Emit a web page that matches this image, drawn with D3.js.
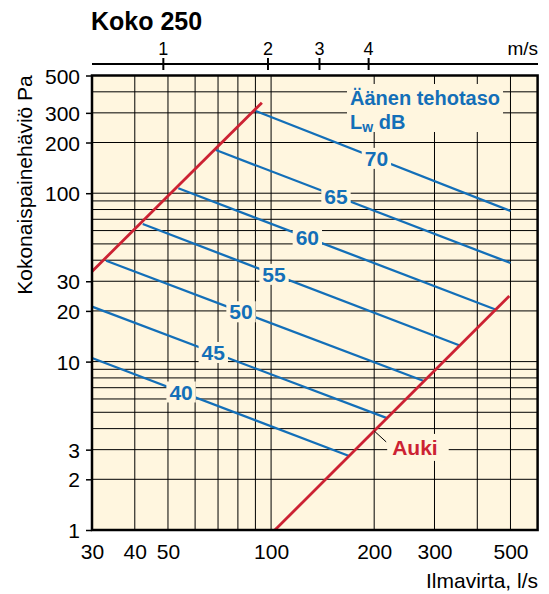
<!DOCTYPE html>
<html><head><meta charset="utf-8">
<script src="https://cdn.jsdelivr.net/npm/d3@7"></script>
<style>
body{margin:0;background:#fff;}
svg{display:block;font-family:"Liberation Sans",Arial,Helvetica,sans-serif;}
</style></head><body>
<svg id="c" width="549" height="594"></svg>
<script>
// ---- data ----
const chartTitle = "Koko 250";
const xLabel = "Ilmavirta, l/s";
const yLabel = "Kokonaispainehäviö Pa";
const topUnit = "m/s";
const xTickValues = [30, 40, 50, 100, 200, 300, 500];
const yTickValues = [1, 2, 3, 10, 20, 30, 100, 200, 300, 500];
const xGridValues = [40, 50, 60, 70, 80, 90, 100, 200, 300, 400, 500];
const yGridValues = [2, 3, 4, 5, 6, 7, 8, 9, 10, 20, 30, 40, 50, 60, 70, 80, 90, 100, 200, 300, 400];
const velocityTicks = [1, 2, 3, 4];
const velocityTickFlows = [48.3, 97.6, 138, 192];
const levels = [70, 65, 60, 55, 50, 45, 40];
const levelStartFlow = [90.2, 69, 53.6, 42.2, 33, 30, 30];
const levelStartPressure = [307.6, 180.5, 107, 65.6, 39.7, 21.2, 10.5];
const levelEndFlow = [500, 500, 452, 354, 278, 219, 169];
const levelEndPressure = [78.4, 38.5, 20.4, 12.5, 7.7, 4.6, 2.75];
const levelLabelFlow = [203, 154.7, 127.6, 102, 81.7, 67.8, 54.6];
const openLeftFlow = [30, 94];
const openLeftPressure = [34.3, 345];
const openRightFlow = [102.6, 496];
const openRightPressure = [1, 24.5];
const openLabel = "Auki";
const openLabelFlow = 200;
const legendLine1 = "Äänen tehotaso";
const legendL = "L", legendSub = "w", legendRest = " dB";

// ---- styles ----
const BLUE = "#136fb8", RED = "#cc2233", CREAM = "#fff6df";

const svg = d3.select("#c");
const L = 92, R = 537.6, T = 75.5, B = 530;
const x = d3.scaleLog().domain([30, 600]).range([L, R]);
const y = d3.scaleLog().domain([1, 500]).range([B, T]);

// title
svg.append("text").attr("x", 91).attr("y", 30).attr("font-size", 25).attr("font-weight", "bold").text(chartTitle);

// plot background
svg.append("rect").attr("x", L).attr("y", T).attr("width", R - L).attr("height", B - T).attr("fill", CREAM);

// grid
const grid = svg.append("g").attr("stroke", "#000").attr("stroke-width", 1);
grid.selectAll(".gx").data(xGridValues).join("line")
  .attr("x1", d => x(d)).attr("x2", d => x(d)).attr("y1", T).attr("y2", B);
grid.selectAll(".gy").data(yGridValues).join("line")
  .attr("y1", d => y(d)).attr("y2", d => y(d)).attr("x1", L).attr("x2", R);

// sound level lines
const lvl = levels.map((v, i) => ({v, f0: levelStartFlow[i], p0: levelStartPressure[i], f1: levelEndFlow[i], p1: levelEndPressure[i], lf: levelLabelFlow[i]}));
const line = d3.line().x(d => x(d[0])).y(d => y(d[1]));
svg.append("g").selectAll("path").data(lvl).join("path")
  .attr("d", d => line([[d.f0, d.p0], [d.f1, d.p1]]))
  .attr("fill", "none").attr("stroke", BLUE).attr("stroke-width", 2.3);

// open lines
const openLines = [openLeftFlow.map((f, i) => [f, openLeftPressure[i]]), openRightFlow.map((f, i) => [f, openRightPressure[i]])];
svg.append("g").selectAll("path").data(openLines).join("path")
  .attr("d", d => line(d)).attr("fill", "none").attr("stroke", RED).attr("stroke-width", 2.8);

// level labels
function pAt(d, f) {
  const t = (Math.log(f) - Math.log(d.f0)) / (Math.log(d.f1) - Math.log(d.f0));
  return Math.exp(Math.log(d.p0) + t * (Math.log(d.p1) - Math.log(d.p0)));
}
const lg = svg.append("g");
lvl.forEach(d => {
  const cx = x(d.lf), cy = y(pAt(d, d.lf));
  const r = lg.append("rect").attr("fill", CREAM);
  const t = lg.append("text").attr("x", cx).attr("y", cy).attr("dy", "0.36em")
    .attr("text-anchor", "middle").attr("font-size", 21).attr("font-weight", "bold")
    .attr("fill", BLUE).text(d.v);
  const w = t.node().getComputedTextLength();
  r.attr("x", cx - w / 2 - 3).attr("y", cy - 10.5).attr("width", w + 6).attr("height", 21);
});

// legend title
const leg = svg.append("g");
const legBg = leg.append("rect").attr("fill", CREAM);
const t1 = leg.append("text").attr("x", 350).attr("y", 105).attr("font-size", 20).attr("font-weight", "bold").attr("fill", BLUE).text(legendLine1);
const t2 = leg.append("text").attr("x", 350).attr("y", 128.5).attr("font-size", 20).attr("font-weight", "bold").attr("fill", BLUE);
t2.append("tspan").text(legendL);
t2.append("tspan").attr("font-size", 14).attr("dy", 3).text(legendSub);
t2.append("tspan").attr("dy", -3).text(legendRest);
{
  const b1 = t1.node().getBBox();
  legBg.attr("x", b1.x - 3).attr("y", 84).attr("width", b1.width + 6).attr("height", 132 - 84);
}

// Auki label
{
  const ax = x(openLabelFlow);
  const ap = Math.exp(Math.log(openRightPressure[0]) + (Math.log(openLabelFlow) - Math.log(openRightFlow[0])) / (Math.log(openRightFlow[1]) - Math.log(openRightFlow[0])) * (Math.log(openRightPressure[1]) - Math.log(openRightPressure[0])));
  const ay = y(ap);
  const ag = svg.append("g");
  const bg = ag.append("rect").attr("fill", CREAM);
  ag.append("line").attr("x1", ax).attr("y1", ay).attr("x2", ax + 12).attr("y2", ay + 11).attr("stroke", "#000").attr("stroke-width", 1);
  const at = ag.append("text").attr("x", ax + 18).attr("y", ay + 24).attr("font-size", 21).attr("font-weight", "bold").attr("fill", RED).text(openLabel);
  const bb = at.node().getBBox();
  bg.attr("x", bb.x - 5).attr("y", ay + 3).attr("width", bb.width + 16).attr("height", 27);
}

// border
svg.append("rect").attr("x", L).attr("y", T).attr("width", R - L).attr("height", B - T)
  .attr("fill", "none").attr("stroke", "#000").attr("stroke-width", 2.5);

// left axis
const ya = svg.append("g").attr("transform", `translate(${L},0)`)
  .call(d3.axisLeft(y).tickValues(yTickValues).tickFormat(d3.format("d")).tickSizeInner(6).tickSizeOuter(0).tickPadding(6));
ya.select(".domain").remove();
ya.selectAll("line").attr("stroke", "#000").attr("stroke-width", 1.5);
ya.selectAll("text").attr("font-size", 21).attr("font-family", "Liberation Sans, Arial, sans-serif").attr("fill", "#000").attr("dy", "0.36em");

// bottom axis
const xa = svg.append("g").attr("transform", `translate(0,${B})`)
  .call(d3.axisBottom(x).tickValues(xTickValues).tickFormat(d3.format("d")).tickSize(0).tickPadding(14));
xa.select(".domain").remove();
xa.selectAll("text").attr("font-size", 21).attr("font-family", "Liberation Sans, Arial, sans-serif").attr("fill", "#000");

// top velocity axis
const ta = svg.append("g").attr("transform", "translate(0,64)")
  .call(d3.axisTop(x).tickValues(velocityTickFlows).tickFormat((d, i) => velocityTicks[i]).tickSize(6).tickPadding(3));
ta.select(".domain").remove();
ta.append("line").attr("x1", L).attr("x2", 538).attr("y1", 0).attr("y2", 0).attr("stroke", "#000").attr("stroke-width", 2);
ta.selectAll(".tick line").attr("y1", 6).attr("y2", -6).attr("stroke", "#000").attr("stroke-width", 2);
ta.selectAll("text").attr("font-size", 18).attr("font-family", "Liberation Sans, Arial, sans-serif").attr("fill", "#000");
svg.append("text").attr("x", 538).attr("y", 55).attr("text-anchor", "end").attr("font-size", 19).text(topUnit);

// axis titles
svg.append("text").attr("x", 538).attr("y", 588).attr("text-anchor", "end").attr("font-size", 21).text(xLabel);
svg.append("text").attr("transform", "translate(32,185) rotate(-90)").attr("text-anchor", "middle").attr("font-size", 21).text(yLabel);
</script>
</body></html>
